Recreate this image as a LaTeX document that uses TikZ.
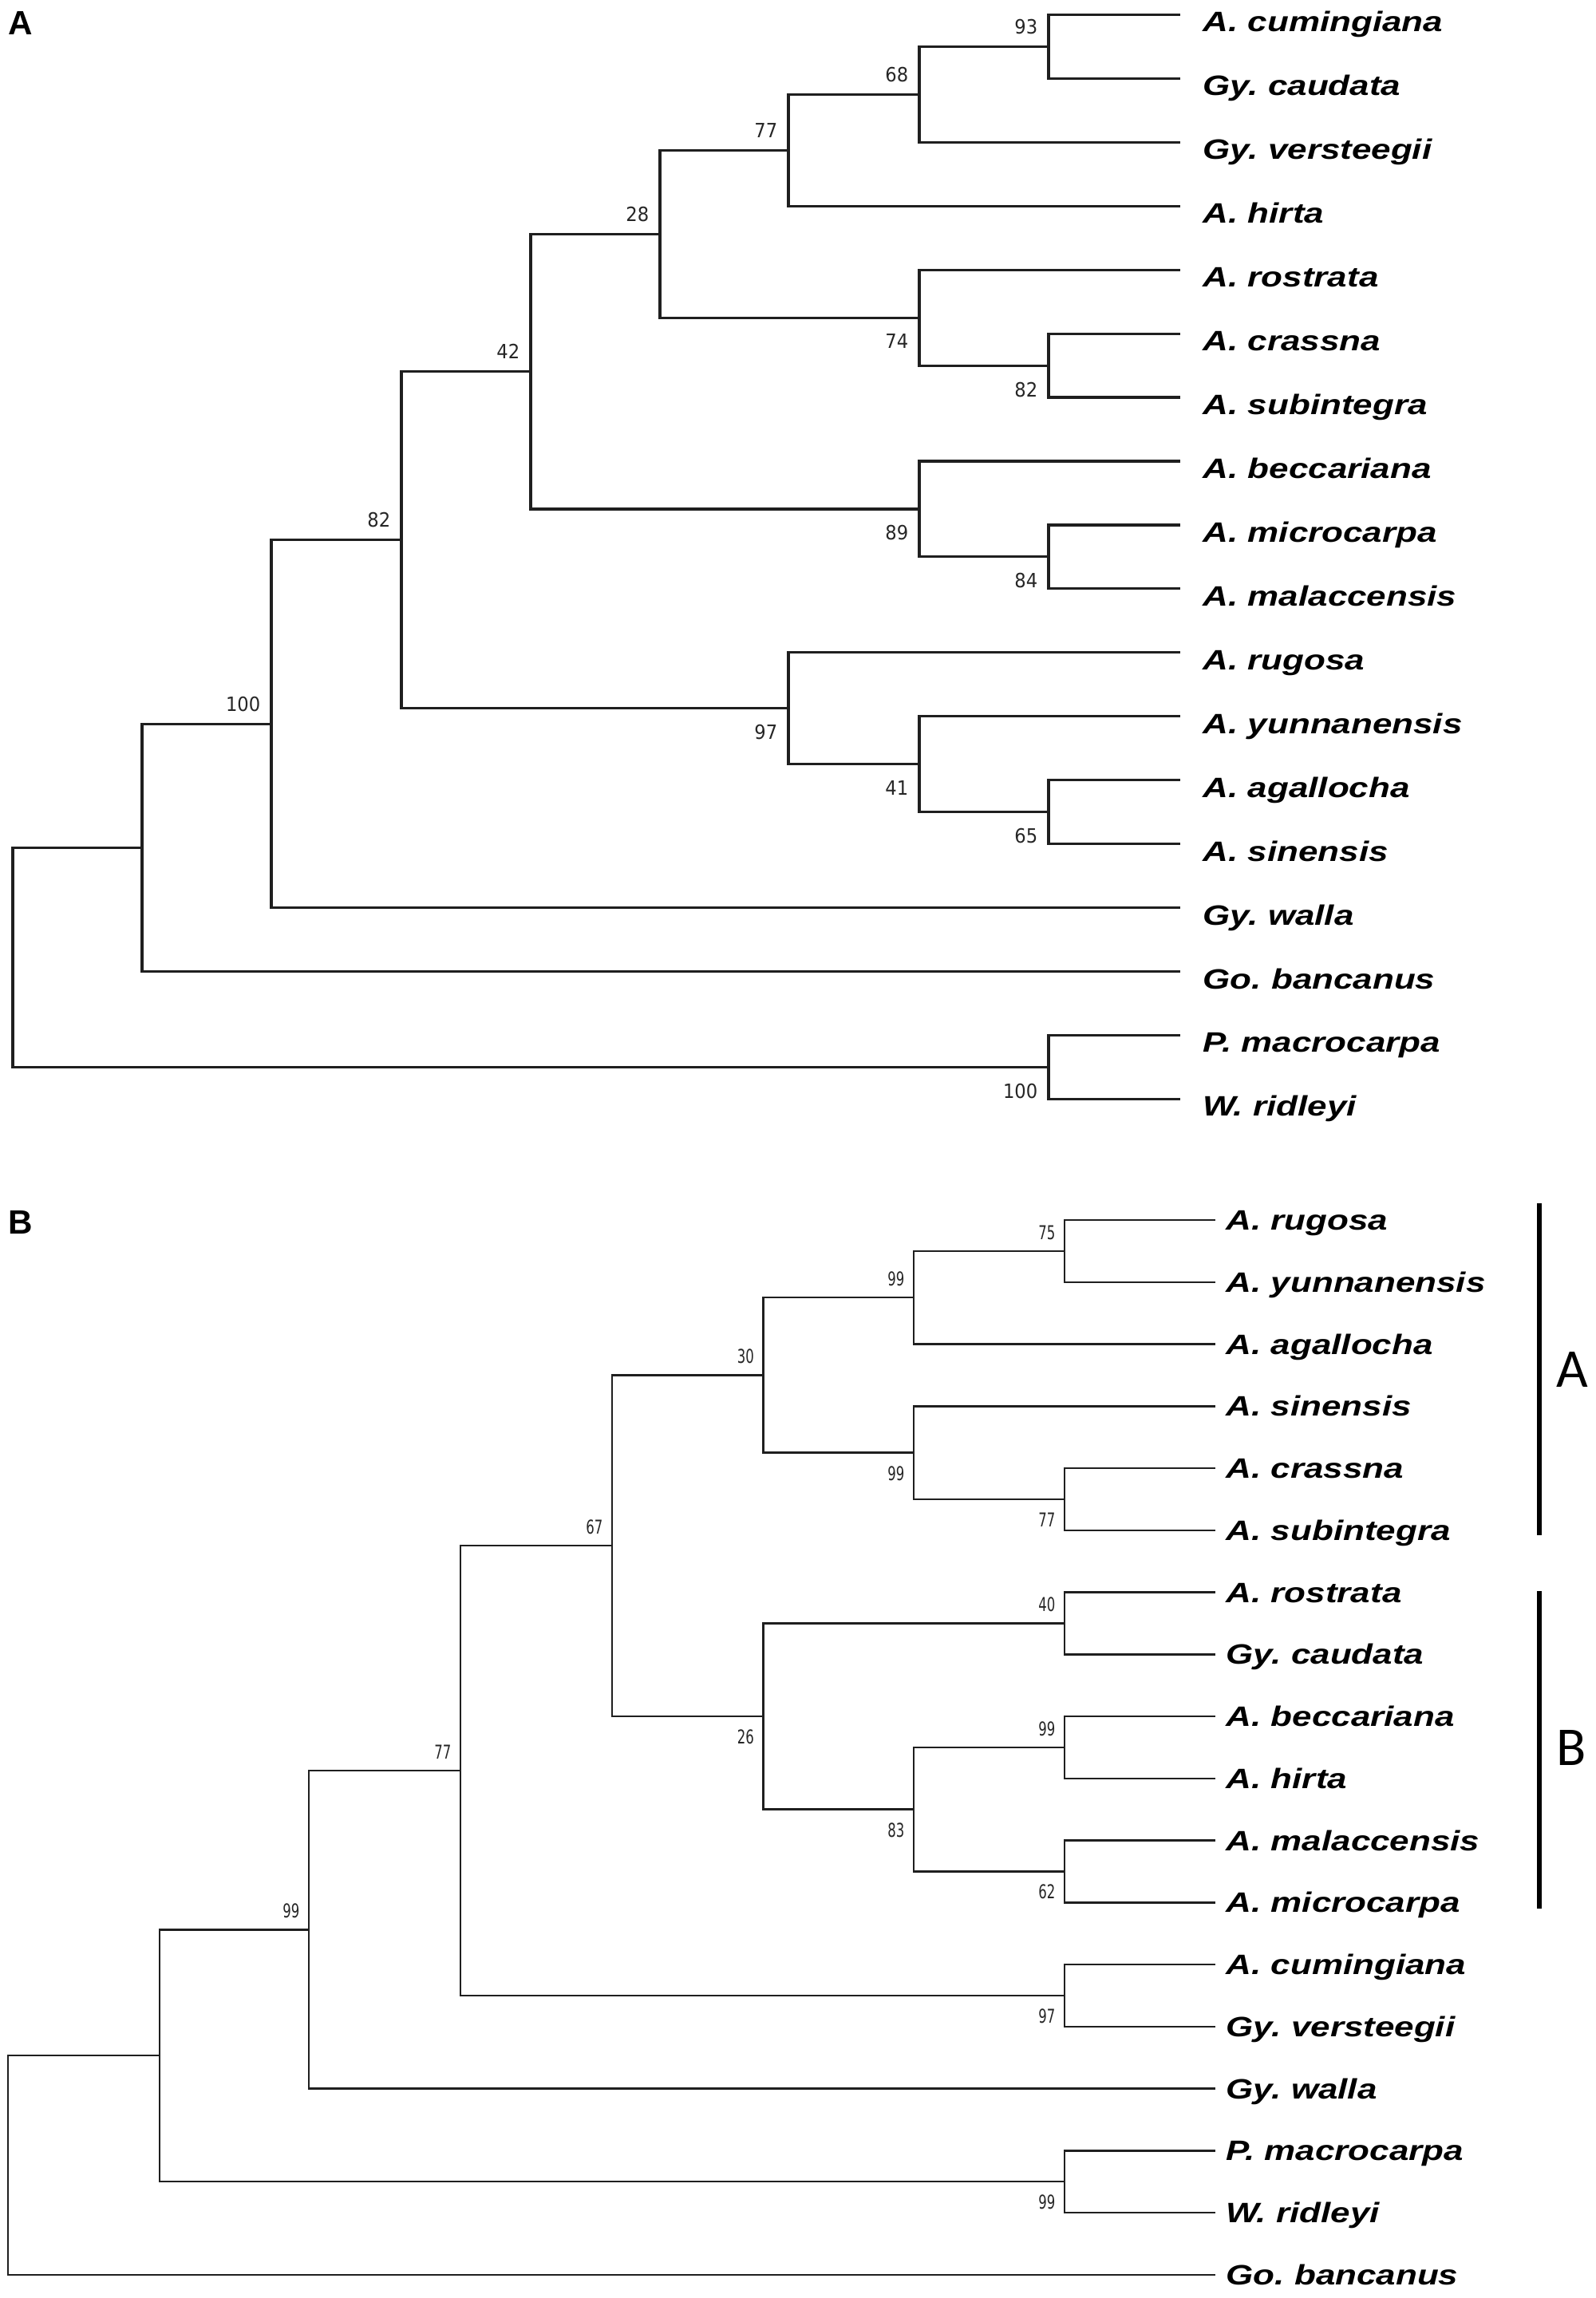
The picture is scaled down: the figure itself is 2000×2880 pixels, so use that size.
\documentclass[tikz,border=0pt]{standalone}
\usepackage{graphicx}
\usepackage{fontspec}
\setmainfont{Liberation Sans}
\newfontfamily\bsfont{DejaVu Sans}
\newfontfamily\clfont{Carlito}
\usetikzlibrary{calc}
\frenchspacing
\newcommand\YA[1]{18.4+79.94*(#1)}
\newcommand\YB[1]{1529+77.75*(#1)}
\newcommand\spname[1]{\scalebox{1.25}[1]{\fontsize{10}{12}\selectfont\bfseries\itshape\frenchspacing #1}}
\newcommand\bsA[1]{\scalebox{0.92}[1]{\bsfont\fontsize{7}{8}\selectfont #1}}
\newcommand\bsB[1]{\scalebox{0.69}[1]{\bsfont\fontsize{6.8}{8}\selectfont #1}}
\tikzset{
  brA/.style={line width=0.9pt, line cap=rect, draw=black!88},
  brB/.style={line width=0.71pt, line cap=rect, draw=black!88},
  spA/.style={anchor=base west, inner sep=0pt},
  lblup/.style={anchor=south east, inner sep=0pt, text=black!85},
  lbldn/.style={anchor=north east, inner sep=0pt, text=black!85},
  cladebar/.style={line width=1.71pt, draw=black},
  cladelbl/.style={anchor=west, inner sep=0pt, font=\clfont\fontsize{19.5}{22}\selectfont},
  panellbl/.style={anchor=north west, inner sep=0pt, font=\fontsize{12}{14}\selectfont\bfseries}
}
\begin{document}
\begin{tikzpicture}[x=0.01cm,y=-0.01cm]
\useasboundingbox (0,0) rectangle (2000,2880);
\fill[white] (0,0) rectangle (2000,2880);

% ---------------- Panel A ----------------
\node[panellbl] (panelA) at (10,14) {A};

\foreach \i/\t in {0/A. cumingiana, 1/Gy. caudata, 2/Gy. versteegii, 3/A. hirta,
  4/A. rostrata, 5/A. crassna, 6/A. subintegra, 7/A. beccariana, 8/A. microcarpa,
  9/A. malaccensis, 10/A. rugosa, 11/A. yunnanensis, 12/A. agallocha, 13/A. sinensis,
  14/Gy. walla, 15/Go. bancanus, 16/P. macrocarpa, 17/W. ridleyi}{
  \coordinate (a\i) at (1477,{\YA{\i}});
  \node[spA] (la\i) at (1507,{\YA{\i}+21.5}) {\spname{\t}};
}

\coordinate (n93)   at (1314,{\YA{0.5}});
\coordinate (n68)   at (1152,{\YA{1.25}});
\coordinate (n77)   at (988,{\YA{2.125}});
\coordinate (n82a)  at (1314,{\YA{5.5}});
\coordinate (n74)   at (1152,{\YA{4.75}});
\coordinate (n28)   at (827,{\YA{3.4375}});
\coordinate (n84)   at (1314,{\YA{8.5}});
\coordinate (n89)   at (1152,{\YA{7.75}});
\coordinate (n42)   at (665,{\YA{5.59375}});
\coordinate (n65)   at (1314,{\YA{12.5}});
\coordinate (n41)   at (1152,{\YA{11.75}});
\coordinate (n97)   at (988,{\YA{10.875}});
\coordinate (n82)   at (503,{\YA{8.234375}});
\coordinate (n100)  at (340,{\YA{11.1171875}});
\coordinate (nU)    at (178,{\YA{13.05859375}});
\coordinate (n100b) at (1314,{\YA{16.5}});
\coordinate (rootA) at (16,{\YA{14.779296875}});

\foreach \p/\c in {n93/a0, n93/a1, n68/n93, n68/a2, n77/n68, n77/a3,
  n82a/a5, n82a/a6, n74/a4, n74/n82a, n28/n77, n28/n74,
  n84/a8, n84/a9, n89/a7, n89/n84, n42/n28, n42/n89,
  n65/a12, n65/a13, n41/a11, n41/n65, n97/a10, n97/n41,
  n82/n42, n82/n97, n100/n82, n100/a14, nU/n100, nU/a15,
  n100b/a16, n100b/a17, rootA/nU, rootA/n100b}{
  \draw[brA] (\p) |- (\c);
}

\foreach \n/\v in {n93/93, n68/68, n77/77, n28/28, n42/42, n82/82, n100/100}{
  \node[lblup] (s\n) at ($(\n)+(-13,-15)$) {\bsA{\v}};
}
\foreach \n/\v in {n74/74, n82a/82, n89/89, n84/84, n97/97, n41/41, n65/65, n100b/100}{
  \node[lbldn] (s\n) at ($(\n)+(-13,20)$) {\bsA{\v}};
}

% ---------------- Panel B ----------------
\node[panellbl] (panelB) at (10,1517) {B};

\foreach \i/\t in {0/A. rugosa, 1/A. yunnanensis, 2/A. agallocha, 3/A. sinensis,
  4/A. crassna, 5/A. subintegra, 6/A. rostrata, 7/Gy. caudata, 8/A. beccariana,
  9/A. hirta, 10/A. malaccensis, 11/A. microcarpa, 12/A. cumingiana,
  13/Gy. versteegii, 14/Gy. walla, 15/P. macrocarpa, 16/W. ridleyi, 17/Go. bancanus}{
  \coordinate (b\i) at (1522,{\YB{\i}});
  \node[spA] (lb\i) at (1536,{\YB{\i}+12.5}) {\spname{\t}};
}

\coordinate (b75)   at (1334,{\YB{0.5}});
\coordinate (b99a)  at (1145,{\YB{1.25}});
\coordinate (b77a)  at (1334,{\YB{4.5}});
\coordinate (b99b)  at (1145,{\YB{3.75}});
\coordinate (b30)   at (956.6,{\YB{2.5}});
\coordinate (b40)   at (1334,{\YB{6.5}});
\coordinate (b99c)  at (1334,{\YB{8.5}});
\coordinate (b62)   at (1334,{\YB{10.5}});
\coordinate (b83)   at (1145,{\YB{9.5}});
\coordinate (b26)   at (956.6,{\YB{8}});
\coordinate (b67)   at (767,{\YB{5.25}});
\coordinate (b97)   at (1334,{\YB{12.5}});
\coordinate (b77)   at (577,{\YB{8.875}});
\coordinate (b99d)  at (387,{\YB{11.4375}});
\coordinate (b99e)  at (1334,{\YB{15.5}});
\coordinate (bU)    at (200,{\YB{13.46875}});
\coordinate (rootB) at (10,{\YB{15.234375}});

\foreach \p/\c in {b75/b0, b75/b1, b99a/b75, b99a/b2, b77a/b4, b77a/b5,
  b99b/b3, b99b/b77a, b30/b99a, b30/b99b, b40/b6, b40/b7, b99c/b8, b99c/b9,
  b62/b10, b62/b11, b83/b99c, b83/b62, b26/b40, b26/b83, b67/b30, b67/b26,
  b97/b12, b97/b13, b77/b67, b77/b97, b99d/b77, b99d/b14, b99e/b15, b99e/b16,
  bU/b99d, bU/b99e, rootB/bU, rootB/b17}{
  \draw[brB] (\p) |- (\c);
}

\foreach \n/\v in {b75/75, b99a/99, b30/30, b67/67, b40/40, b99c/99, b77/77, b99d/99}{
  \node[lblup] (s\n) at ($(\n)+(-11,-13.5)$) {\bsB{\v}};
}
\foreach \n/\v in {b99b/99, b77a/77, b26/26, b83/83, b62/62, b97/97, b99e/99}{
  \node[lbldn] (s\n) at ($(\n)+(-11,16)$) {\bsB{\v}};
}

\coordinate (barAt) at (1929,1508);
\coordinate (barAb) at (1929,1924);
\coordinate (barBt) at (1929,1994);
\coordinate (barBb) at (1929,2392);
\draw[cladebar] (barAt) -- (barAb);
\draw[cladebar] (barBt) -- (barBb);
\node[cladelbl] (cladeA) at (1950,1716) {A};
\node[cladelbl] (cladeB) at (1950,2190) {B};
\end{tikzpicture}
\end{document}
